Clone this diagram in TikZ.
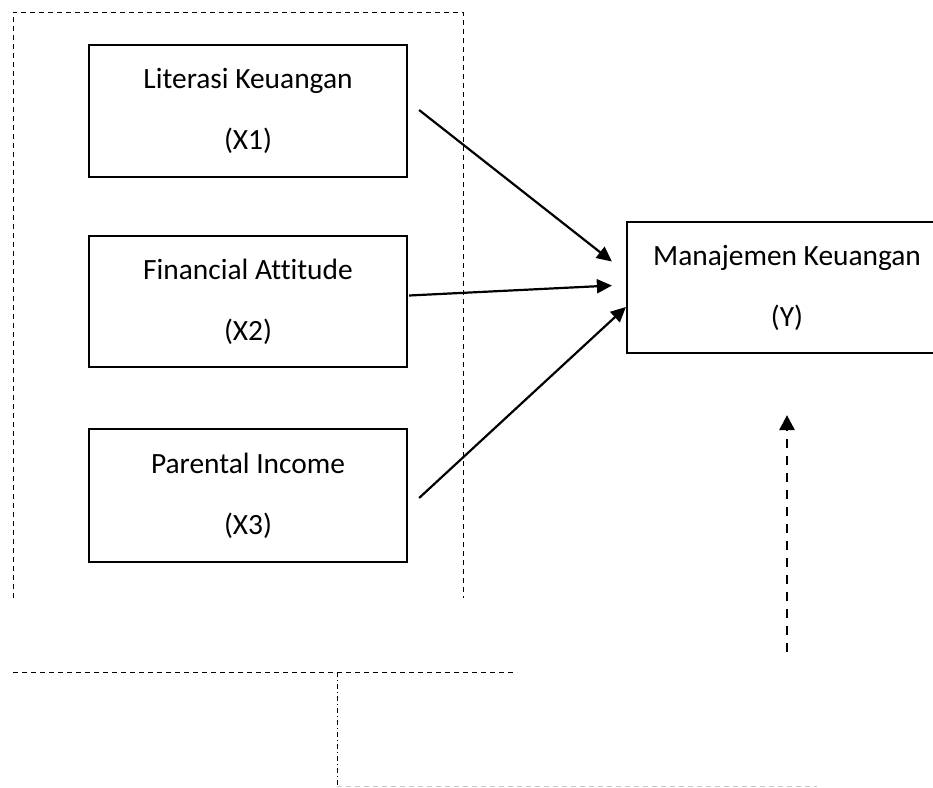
\documentclass[tikz,border=0pt]{standalone}
\usepackage{fontspec}
\setmainfont[Ligatures=NoCommon]{Carlito}
\usetikzlibrary{arrows.meta}
\begin{document}
\begin{tikzpicture}[x=1pt,y=-1pt,
  varbox/.style={draw,line width=2.2pt,inner sep=0pt,align=center,
    font=\fontsize{29.4}{61}\selectfont},
  grpline/.style={line width=1pt,dash pattern=on 5pt off 4pt},
  dashdotline/.style={line width=1pt,dash pattern=on 5pt off 3pt on 1pt off 3pt},
  greyline/.style={line width=1pt,draw=black!22,dash pattern=on 5pt off 4pt},
  effect/.style={line width=2.2pt,-{Triangle[length=15pt,width=14pt]}},
  moder/.style={line width=2.7pt,dash pattern=on 9pt off 8pt,-{Triangle[length=15pt,width=15pt]}}]
\useasboundingbox (0,0) rectangle (933,787);
% group outline
\draw[grpline] (13,598) -- (13,12) -- (463,12) -- (463,598);
% variable boxes
\node[varbox,minimum width=318pt,minimum height=132pt] (X1) at (248,111) {Literasi Keuangan\\(X1)};
\node[varbox,minimum width=318pt,minimum height=131pt] (X2) at (248,301.5) {Financial Attitude\\(X2)};
\node[varbox,minimum width=318pt,minimum height=133pt] (X3) at (248,495.5) {Parental Income\\(X3)};
\node[varbox,minimum width=320pt,minimum height=131pt] (Y) at (787,287.5) {Manajemen Keuangan\\(Y)};
% effects
\draw[effect] ([shift={(11,-1)}]X1.east) -- ([shift={(-14,-26)}]Y.west);
\draw[effect] ([shift={(1,-6)}]X2.east) -- ([shift={(-14,-2)}]Y.west);
\draw[effect] ([shift={(11,2.5)}]X3.east) -- ([shift={(0,19.5)}]Y.west);
% moderator arrow
\coordinate (mstart) at (787,652);
\draw[moder] (mstart) -- ([shift={(0,61)}]Y.south);
% lower lines
\coordinate (h1) at (13,672);
\coordinate (h2) at (517,672);
\coordinate (v1) at (337,672);
\coordinate (v2) at (337,786);
\coordinate (g2) at (817,786);
\draw[grpline] (h1) -- (h2);
\draw[dashdotline] (v1) -- (v2);
\draw[greyline] (v2) -- (g2);
\end{tikzpicture}
\end{document}
